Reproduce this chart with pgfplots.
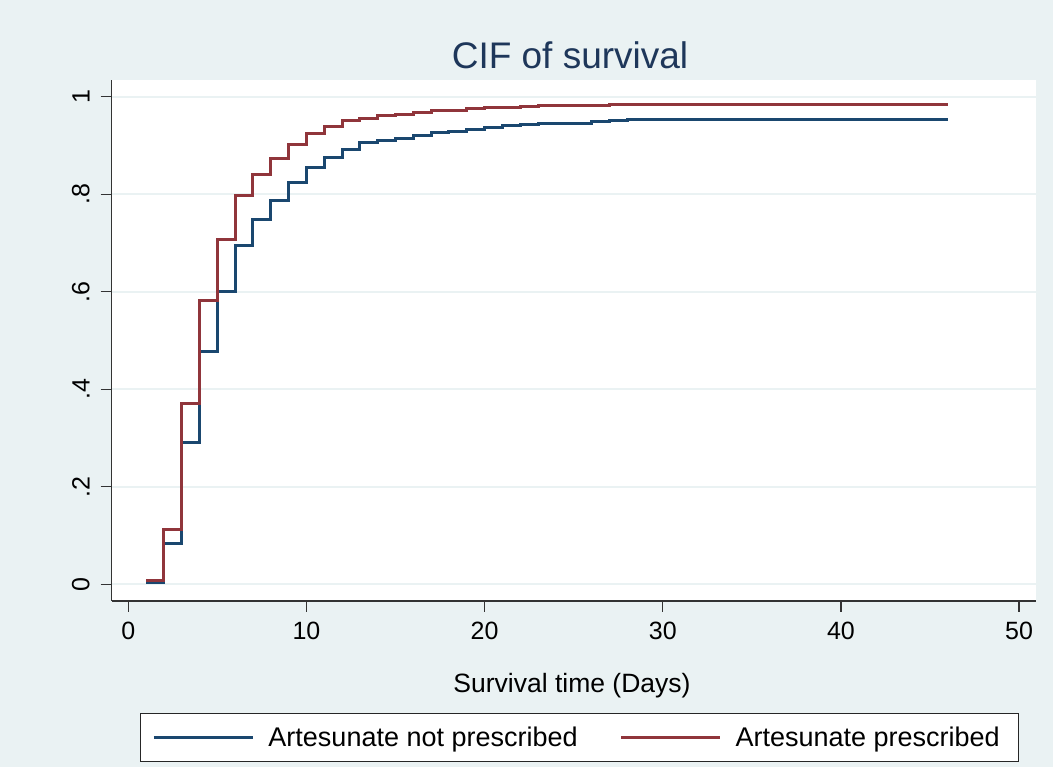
\documentclass[border=0pt]{standalone}
\usepackage{fontspec}
\setmainfont{Liberation Sans}
\usepackage{pgfplots}
\pgfplotsset{compat=1.18}
\definecolor{bgc}{RGB}{234,242,243}
\definecolor{stblue}{RGB}{26,71,111}
\definecolor{stred}{RGB}{144,53,59}
\definecolor{ttl}{RGB}{30,55,90}
\begin{document}
\begin{tikzpicture}[x=1pt,y=1pt]
\fill[bgc] (0,0) rectangle (1053,767);
\begin{axis}[
  at={(111.7pt,166pt)}, anchor=south west,
  scale only axis, width=924.3pt, height=521pt,
  xmin=-0.93, xmax=50.95, ymin=-0.034, ymax=1.034,
  axis background/.style={fill=white},
  axis x line*=bottom, axis y line*=left,
  axis line style={-, black!80, line width=1.3pt},
  xtick={0,10,20,30,40,50},
  ytick={0,0.2,0.4,0.6,0.8,1},
  yticklabels={0,.2,.4,.6,.8,1},
  tick align=outside, major tick length=11pt,
  tick style={black!80, line width=1.2pt},
  ymajorgrids, grid style={bgc, line width=2pt},
  /pgf/number format/assume math mode=true,
  xticklabel style={font=\fontsize{25}{28}\selectfont, inner sep=0pt, yshift=-10pt, anchor=north},
  yticklabel style={font=\fontsize{25}{28}\selectfont, rotate=90, inner sep=0pt, anchor=south, yshift=11pt},
  legend style={at={(axis description cs:0.0306,0)}, anchor=north west, yshift=-111.7pt,
    draw=black!85, line width=1pt, fill=white, font=\fontsize{27}{30}\selectfont,
    inner xsep=12pt, inner ysep=11.5pt, nodes={inner sep=2pt},
    /tikz/every even column/.append style={column sep=40pt}},
  legend columns=2,
  legend image code/.code={\draw[#1, line width=3pt] (0pt,0pt) -- (99pt,0pt);},
  legend cell align=left,
]
\addplot[const plot, stblue, line width=3pt] coordinates {
(1,0.004) (2,0.084) (3,0.291) (4,0.477) (5,0.600) (6,0.694) (7,0.747) (8,0.786)
(9,0.823) (10,0.854) (11,0.875) (12,0.892) (13,0.9065) (14,0.9106) (15,0.914)
(16,0.920) (17,0.9256) (18,0.9276) (19,0.933) (20,0.9365) (21,0.940) (22,0.942)
(23,0.944) (26,0.948) (27,0.950) (28,0.952) (46,0.952)};
\addlegendentry{\hspace{12pt}Artesunate not prescribed}
\addplot[const plot, stred, line width=3pt] coordinates {
(1,0.007) (2,0.112) (3,0.370) (4,0.581) (5,0.706) (6,0.797) (7,0.840) (8,0.873)
(9,0.902) (10,0.924) (11,0.9385) (12,0.951) (13,0.9556) (14,0.9604) (15,0.9625)
(16,0.9666) (17,0.9707) (19,0.9748) (20,0.9768) (21,0.978) (22,0.9795) (23,0.981)
(26,0.982) (27,0.9836) (46,0.9836)};
\addlegendentry{\hspace{12pt}Artesunate prescribed\kern5pt\null}
\end{axis}
\node[font=\fontsize{37}{40}\selectfont, text=ttl] at (570,712) {CIF of survival};
\node[font=\fontsize{26.5}{30}\selectfont] at (572,81) {Survival time (Days)};
\end{tikzpicture}
\end{document}
